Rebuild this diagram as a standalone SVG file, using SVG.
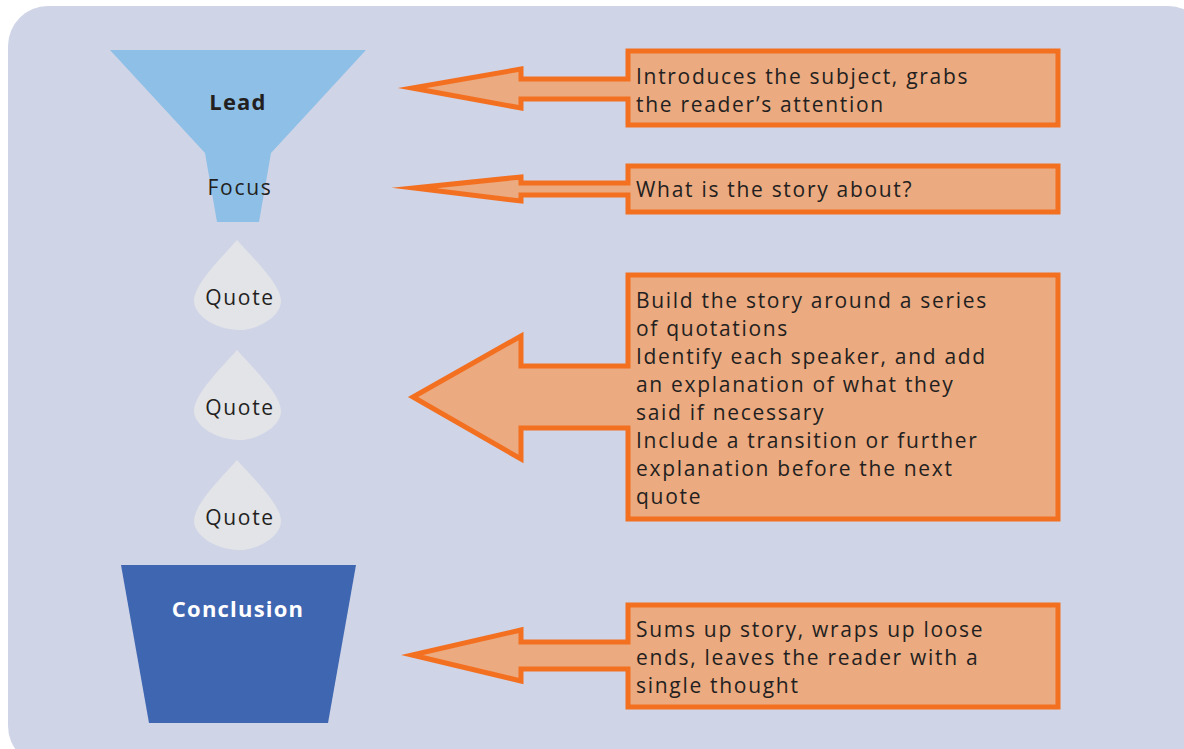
<svg xmlns="http://www.w3.org/2000/svg" width="1184" height="749" viewBox="0 0 1184 749">
<style>
.t{font-family:"Open Sans","DejaVu Sans",sans-serif;font-size:21px;letter-spacing:1.7px;fill:#231F20}
.b{font-weight:bold;font-size:22px;letter-spacing:1.2px}
.c{text-anchor:middle}
.call{fill:#EBAA80;stroke:#F37021;stroke-width:5;stroke-linejoin:miter;stroke-miterlimit:12}
.drop{fill:#E3E4E8}
</style>
<defs>
<path id="drop" d="M0,0 C14,16 44,44 44,61 C44,76 22,90 2,90 C-20,90 -43,76 -43,61 C-43,44 -14,16 0,0 Z"/>
</defs>
<rect x="8" y="6" width="1200" height="760" rx="40" ry="40" fill="#CFD4E7"/>
<g id="lead">
<polygon points="110,50 366,50 271,153 259,222 217,222 205,153" fill="#8EBFE6"/>
<text class="t b c" x="238" y="110">Lead</text>
<text class="t c" x="240" y="195">Focus</text>
</g>
<g id="quote1"><use href="#drop" x="237" y="240" class="drop"/><text class="t c" x="240" y="305">Quote</text></g>
<g id="quote2"><use href="#drop" x="237" y="350" class="drop"/><text class="t c" x="240" y="415">Quote</text></g>
<g id="quote3"><use href="#drop" x="237" y="460" class="drop"/><text class="t c" x="240" y="525">Quote</text></g>
<g id="conclusion">
<polygon points="121,565 356,565 328,723 149,723" fill="#3F66B1"/>
<text class="t b c" x="238" y="617" style="fill:#fff">Conclusion</text>
</g>
<g id="connectors">
<path class="call" d="M628,51 H1058 V125 H628 V99 H521 V108 L412,88 L521,69 V79 H628 Z"/>
<path class="call" d="M628,166 H1058 V212 H628 V195 H521 V201 L414,188 L521,177 V183 H628 Z"/>
<path class="call" d="M628,275 H1058 V519 H628 V428 H521 V459 L413,397 L521,336 V366 H628 Z"/>
<path class="call" d="M628,605 H1058 V707 H628 V669 H521 V681 L412,655 L521,630 V642 H628 Z"/>
</g>
<g id="box1"><text class="t" x="636" y="84">Introduces the subject, grabs</text><text class="t" x="636" y="112">the reader’s attention</text></g>
<g id="box2"><text class="t" x="636" y="197">What is the story about?</text></g>
<g id="box3">
<text class="t" x="636" y="308">Build the story around a series</text>
<text class="t" x="636" y="336">of quotations</text>
<text class="t" x="636" y="364">Identify each speaker, and add</text>
<text class="t" x="636" y="392">an explanation of what they</text>
<text class="t" x="636" y="420">said if necessary</text>
<text class="t" x="636" y="448">Include a transition or further</text>
<text class="t" x="636" y="476">explanation before the next</text>
<text class="t" x="636" y="504">quote</text>
</g>
<g id="box4">
<text class="t" x="636" y="637">Sums up story, wraps up loose</text>
<text class="t" x="636" y="665">ends, leaves the reader with a</text>
<text class="t" x="636" y="693">single thought</text>
</g>
</svg>
